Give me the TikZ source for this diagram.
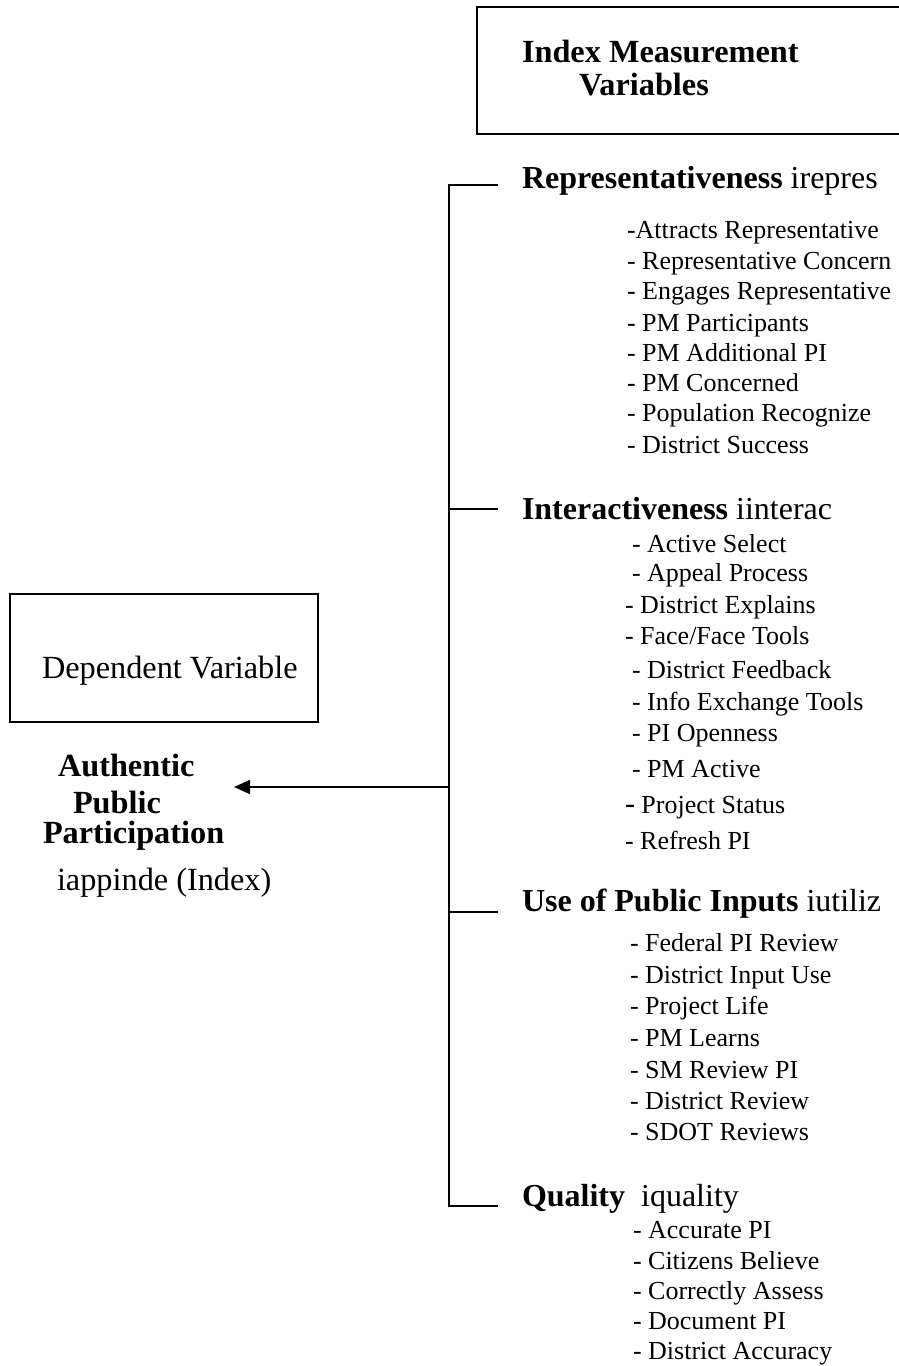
\documentclass[tikz,border=0pt]{standalone}
\usepackage{fontspec}
\setmainfont{Liberation Serif}
\usetikzlibrary{arrows.meta}
\tikzset{
  lbl/.style={anchor=base west, inner sep=0pt, outer sep=0pt},
  item/.style={lbl, font=\fontsize{26}{30}\selectfont},
  head/.style={lbl, font=\fontsize{32}{34}\selectfont},
  big/.style={lbl, font=\fontsize{32.3}{34}\selectfont},
  bigb/.style={lbl, font=\fontsize{32.3}{34}\selectfont\bfseries},
  frame/.style={draw=black, line width=1.6pt, inner sep=0pt},
  trunk/.style={line width=1.6pt},
  conn/.style={line width=1.6pt, -{Triangle[length=16pt,width=14pt]}}
}
\begin{document}
\begin{tikzpicture}[x=1pt,y=-1pt]
\useasboundingbox (0,0) rectangle (899,1366);
% boxes
\node[frame, anchor=north west, minimum width=440pt, minimum height=127pt] (idxbox) at (476,6) {};
\node[bigb] (idx1) at (522,62) {Index Measurement};
\node[bigb] (idx2) at (579,95) {Variables};
\node[frame, anchor=north west, minimum width=308pt, minimum height=128pt] (depbox) at (9,593) {};
\node[big] (dep) at (42,678) {Dependent Variable};
% left labels
\node[bigb] (auth1) at (58,776) {Authentic};
\node[bigb] (auth2) at (73,813) {Public};
\node[bigb] (auth3) at (43,843) {Participation};
\node[big] (auth4) at (57,890) {iappinde (Index)};
% trunk
\coordinate (t0) at (449,185);
\coordinate (t1) at (449,509);
\coordinate (t2) at (449,787);
\coordinate (t3) at (449,912);
\coordinate (t4) at (449,1206);
\coordinate (e0) at (498,185);
\coordinate (e1) at (498,509);
\coordinate (e3) at (498,912);
\coordinate (e4) at (498,1206);
\coordinate (tip) at (234,787);
\draw[trunk] (e0) -- (t0) -- (t4) -- (e4);
\draw[trunk] (t1) -- (e1);
\draw[trunk] (t3) -- (e3);
\draw[conn] (t2) -- (tip);
% headings
\node[head] (h1) at (522,188) {\textbf{Representativeness} irepres};
\node[head] (h2) at (522,519) {\textbf{Interactiveness} iinterac};
\node[head] (h3) at (522,911) {\textbf{Use of Public Inputs} iutiliz};
\node[head] (h4) at (522,1206) {\textbf{Quality}\ \ iquality};
% representativeness items
\node[item] (r1) at (627,238) {-Attracts Representative};
\node[item] (r2) at (627,269) {- Representative Concern};
\node[item] (r3) at (627,299) {- Engages Representative};
\node[item] (r4) at (627,331) {- PM Participants};
\node[item] (r5) at (627,361) {- PM Additional PI};
\node[item] (r6) at (627,391) {- PM Concerned};
\node[item] (r7) at (627,421) {- Population Recognize};
\node[item] (r8) at (627,453) {- District Success};
% interactiveness items
\node[item] (i1) at (632,552) {- Active Select};
\node[item] (i2) at (632,581) {- Appeal Process};
\node[item] (i3) at (625,613) {- District Explains};
\node[item] (i4) at (625,644) {- Face/Face Tools};
\node[item] (i5) at (632,678) {- District Feedback};
\node[item] (i6) at (632,710) {- Info Exchange Tools};
\node[item] (i7) at (632,741) {- PI Openness};
\node[item] (i8) at (632,777) {- PM Active};
\node[item] (i9) at (625,813) {{\fontsize{30}{34}\selectfont -} Project Status};
\node[item] (i10) at (625,849) {- Refresh PI};
% use of public inputs items
\node[item] (u1) at (630,951) {- Federal PI Review};
\node[item] (u2) at (630,983) {- District Input Use};
\node[item] (u3) at (630,1014) {- Project Life};
\node[item] (u4) at (630,1046) {- PM Learns};
\node[item] (u5) at (630,1078) {- SM Review PI};
\node[item] (u6) at (630,1109) {- District Review};
\node[item] (u7) at (630,1140) {- SDOT Reviews};
% quality items
\node[item] (q1) at (633,1238) {- Accurate PI};
\node[item] (q2) at (633,1269) {- Citizens Believe};
\node[item] (q3) at (633,1299) {- Correctly Assess};
\node[item] (q4) at (633,1329) {- Document PI};
\node[item] (q5) at (633,1359) {- District Accuracy};
\end{tikzpicture}
\end{document}
